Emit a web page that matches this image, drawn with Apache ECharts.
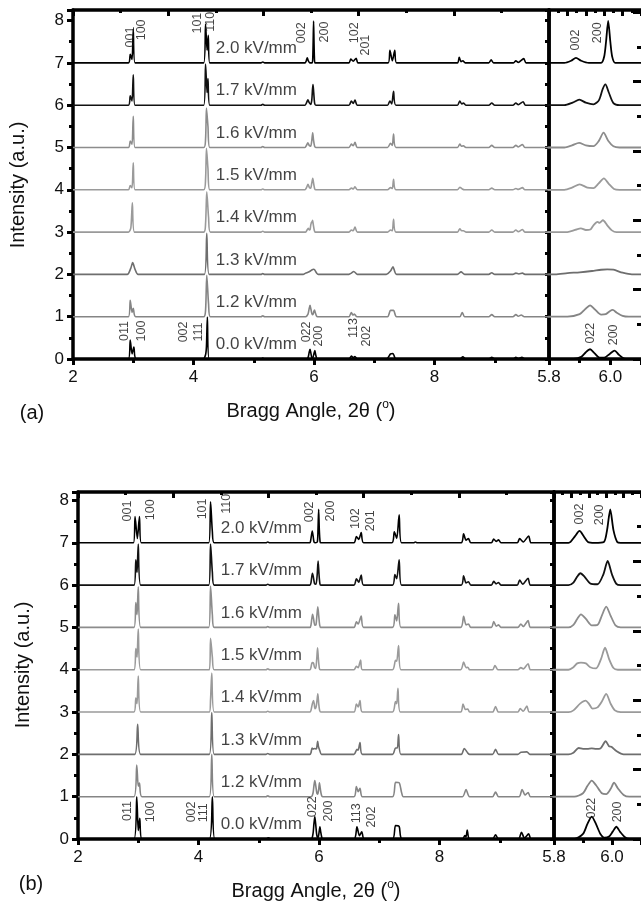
<!DOCTYPE html>
<html><head><meta charset="utf-8">
<script src="https://cdn.jsdelivr.net/npm/echarts@6/dist/echarts.min.js"></script>
<style>html,body{margin:0;padding:0;background:#fff}#c{width:641px;height:908px}</style>
</head><body><div id="c"></div>
<script>
// ---------- data ----------
const fieldLabels = ['0.0 kV/mm','1.2 kV/mm','1.3 kV/mm','1.4 kV/mm','1.5 kV/mm','1.6 kV/mm','1.7 kV/mm','2.0 kV/mm'];
const traceOffsets = [0,1,2,3,4,5,6,7];
const traceColors = ['#000000','#858585','#6e6e6e','#9a9a9a','#9a9a9a','#8c8c8c','#111111','#000000'];
const yTickLabels = [0,1,2,3,4,5,6,7,8];
const xTickLabels = [2,4,6,8];
const insetTickLabels = [5.8,6.0];

// panel (a) traces: [2theta, intensity]
const a00 = [[2,0],[2.92,0],[2.95,0.45],[2.98,0.12],[3.01,0.28],[3.05,0],[4.16,0],[4.2,0.1],[4.215,0.3],[4.23,0.99],[4.26,0],[5.12,0],[5.15,0.02],[5.18,0],[5.88,0],[5.905,0.05],[5.92,0.16],[5.934,0.23],[5.948,0.14],[5.965,0.03],[5.98,0.03],[5.998,0.12],[6.014,0.2],[6.028,0.1],[6.045,0.01],[6.06,0],[6.58,0],[6.62,0.07],[6.65,0.03],[6.68,0.06],[6.72,0],[7.2,0],[7.27,0.12],[7.31,0.13],[7.36,0],[8.42,0],[8.47,0.05],[8.52,0],[8.9,0],[8.95,0.04],[9.0,0],[9.31,0],[9.35,0.04],[9.39,0.01],[9.45,0.04],[9.5,0],[9.95,0]];
const a12 = [[2,0],[2.92,0],[2.95,0.39],[2.98,0.1],[3.0,0.2],[3.04,0],[4.17,0],[4.2,0.15],[4.22,0.98],[4.25,0.3],[4.28,0],[5.12,0],[5.15,0.02],[5.18,0],[5.86,0],[5.9,0.06],[5.918,0.18],[5.934,0.27],[5.95,0.17],[5.97,0.05],[5.985,0.06],[5.998,0.13],[6.008,0.16],[6.02,0.1],[6.04,0.02],[6.06,0],[6.58,0],[6.62,0.1],[6.645,0.04],[6.67,0.06],[6.71,0],[7.22,0],[7.27,0.15],[7.32,0.15],[7.37,0],[8.42,0],[8.46,0.1],[8.5,0],[8.9,0],[8.95,0.05],[9.0,0],[9.3,0],[9.35,0.05],[9.39,0.01],[9.44,0.04],[9.49,0],[9.95,0]];
const a13 = [[2,0],[2.9,0],[2.96,0.15],[2.99,0.28],[3.03,0.12],[3.08,0],[4.18,0],[4.22,0.97],[4.26,0],[5.12,0],[5.15,0.02],[5.18,0],[5.82,0],[5.86,0.03],[5.9,0.05],[5.94,0.08],[5.97,0.11],[5.99,0.12],[6.01,0.11],[6.04,0.04],[6.07,0],[6.58,0],[6.62,0.03],[6.66,0.07],[6.7,0.02],[6.72,0],[7.2,0],[7.27,0.08],[7.31,0.18],[7.37,0],[8.38,0],[8.44,0.06],[8.5,0],[8.9,0],[8.95,0.04],[9.0,0],[9.3,0],[9.35,0.03],[9.4,0.01],[9.46,0.03],[9.5,0],[9.95,0]];
const a14 = [[2,0],[2.92,0],[2.96,0.1],[2.985,0.69],[3.02,0],[4.17,0],[4.2,0.2],[4.22,0.95],[4.25,0.35],[4.28,0],[5.12,0],[5.15,0.02],[5.18,0],[5.86,0],[5.885,0.05],[5.904,0.09],[5.92,0.05],[5.935,0.06],[5.945,0.16],[5.958,0.24],[5.965,0.22],[5.976,0.28],[5.99,0.16],[6.005,0.04],[6.02,0],[6.58,0],[6.62,0.05],[6.65,0.03],[6.68,0.12],[6.72,0],[7.22,0],[7.27,0.05],[7.3,0.03],[7.32,0.3],[7.36,0],[8.38,0],[8.42,0.08],[8.45,0.03],[8.48,0.03],[8.52,0],[8.9,0],[8.95,0.05],[9.0,0],[9.3,0],[9.35,0.05],[9.39,0.01],[9.46,0.06],[9.5,0],[9.95,0]];
const a15 = [[2,0],[2.92,0],[2.95,0.1],[2.98,0.05],[3.0,0.64],[3.03,0],[4.17,0],[4.2,0.25],[4.215,0.98],[4.24,0.5],[4.27,0],[5.12,0],[5.15,0.02],[5.18,0],[5.85,0],[5.875,0.05],[5.9,0.13],[5.925,0.05],[5.945,0.04],[5.962,0.15],[5.979,0.27],[5.995,0.14],[6.012,0.02],[6.03,0],[6.58,0],[6.62,0.04],[6.65,0.02],[6.68,0.07],[6.72,0],[7.22,0],[7.27,0.05],[7.3,0.03],[7.32,0.25],[7.36,0],[8.38,0],[8.42,0.06],[8.46,0.02],[8.5,0],[8.9,0],[8.95,0.04],[9.0,0],[9.3,0],[9.35,0.03],[9.39,0.01],[9.46,0.05],[9.5,0],[9.95,0]];
const a16 = [[2,0],[2.92,0],[2.95,0.15],[2.98,0.08],[3.0,0.74],[3.03,0],[4.17,0],[4.2,0.2],[4.215,0.93],[4.24,0.5],[4.27,0],[5.12,0],[5.15,0.02],[5.18,0],[5.85,0],[5.875,0.05],[5.898,0.11],[5.92,0.05],[5.945,0.03],[5.962,0.15],[5.978,0.35],[5.993,0.16],[6.01,0.03],[6.03,0],[6.58,0],[6.62,0.08],[6.65,0.04],[6.68,0.12],[6.72,0],[7.22,0],[7.27,0.1],[7.3,0.05],[7.32,0.32],[7.36,0],[8.38,0],[8.42,0.08],[8.45,0.03],[8.48,0.04],[8.52,0],[8.9,0],[8.95,0.05],[9.0,0],[9.3,0],[9.35,0.05],[9.39,0.01],[9.46,0.07],[9.5,0],[9.95,0]];
const a17 = [[2,0],[2.92,0],[2.95,0.22],[2.98,0.1],[3.0,0.72],[3.03,0],[4.17,0],[4.2,0.97],[4.225,0.3],[4.24,0.63],[4.27,0],[5.12,0],[5.15,0.02],[5.18,0],[5.85,0],[5.877,0.06],[5.899,0.13],[5.92,0.06],[5.945,0.02],[5.963,0.12],[5.975,0.38],[5.984,0.49],[5.995,0.3],[6.01,0.05],[6.03,0],[6.58,0],[6.62,0.1],[6.65,0.04],[6.68,0.12],[6.72,0],[7.22,0],[7.26,0.1],[7.29,0.03],[7.32,0.33],[7.36,0],[8.38,0],[8.42,0.1],[8.45,0.03],[8.48,0.05],[8.52,0],[8.9,0],[8.95,0.05],[9.0,0],[9.3,0],[9.35,0.05],[9.39,0.01],[9.47,0.08],[9.51,0],[9.95,0]];
const a20 = [[2,0],[2.92,0],[2.95,0.2],[2.98,0.08],[3.0,0.8],[3.03,0],[4.17,0],[4.2,0.92],[4.225,0.3],[4.245,0.65],[4.27,0],[5.12,0],[5.15,0.02],[5.18,0],[5.85,0],[5.872,0.05],[5.888,0.12],[5.905,0.05],[5.93,0],[5.97,0],[5.98,0.15],[5.986,0.5],[5.993,0.99],[6.0,0.5],[6.006,0.15],[6.016,0],[6.58,0],[6.61,0.09],[6.65,0.04],[6.70,0.11],[6.73,0],[7.23,0],[7.26,0.3],[7.3,0.05],[7.34,0.3],[7.37,0],[8.38,0],[8.41,0.13],[8.44,0.03],[8.47,0.05],[8.51,0],[8.9,0],[8.94,0.07],[8.98,0],[9.31,0],[9.35,0.05],[9.39,0.01],[9.48,0.1],[9.52,0],[9.95,0]];

// panel (b) traces
const b00 = [[2,0],[2.93,0],[2.975,1.0],[3.0,0.2],[3.025,0.49],[3.06,0],[4.18,0],[4.23,1.0],[4.27,0],[5.12,0],[5.16,0.03],[5.2,0],[5.87,0],[5.9,0.12],[5.915,0.35],[5.93,0.53],[5.945,0.35],[5.96,0.12],[5.975,0.03],[5.99,0.06],[6.003,0.18],[6.015,0.29],[6.028,0.17],[6.045,0.04],[6.06,0],[6.58,0],[6.63,0.29],[6.67,0.08],[6.71,0.17],[6.75,0],[7.22,0],[7.27,0.32],[7.33,0.3],[7.38,0],[8.38,0],[8.42,0.08],[8.44,0.05],[8.46,0.21],[8.5,0],[8.88,0],[8.93,0.1],[8.98,0],[9.31,0],[9.36,0.16],[9.41,0.02],[9.48,0.12],[9.52,0],[9.95,0]];
const b12 = [[2,0],[2.93,0],[2.975,0.75],[3.0,0.25],[3.02,0.32],[3.06,0],[4.18,0],[4.22,1.0],[4.26,0],[5.12,0],[5.15,0.02],[5.18,0],[5.87,0],[5.9,0.08],[5.915,0.25],[5.93,0.38],[5.945,0.27],[5.965,0.08],[5.98,0.06],[5.995,0.18],[6.007,0.33],[6.02,0.2],[6.04,0.04],[6.06,0],[6.58,0],[6.62,0.24],[6.65,0.12],[6.68,0.2],[6.72,0],[7.22,0],[7.27,0.34],[7.33,0.33],[7.37,0.1],[7.4,0],[8.38,0],[8.44,0.17],[8.5,0],[8.88,0],[8.93,0.11],[8.98,0],[9.32,0],[9.37,0.17],[9.42,0.04],[9.47,0.1],[9.51,0],[9.95,0]];
const b13 = [[2,0],[2.94,0],[2.99,0.71],[3.04,0],[4.18,0],[4.22,0.99],[4.26,0],[5.12,0],[5.15,0.02],[5.18,0],[5.85,0],[5.867,0.04],[5.885,0.15],[5.9,0.13],[5.915,0.13],[5.93,0.14],[5.945,0.13],[5.96,0.14],[5.978,0.31],[5.99,0.19],[5.998,0.18],[6.015,0.08],[6.04,0],[6.58,0],[6.63,0.12],[6.65,0.1],[6.68,0.28],[6.72,0],[7.22,0],[7.27,0.15],[7.3,0.15],[7.32,0.47],[7.36,0],[8.36,0],[8.41,0.14],[8.47,0.03],[8.5,0],[8.88,0],[8.93,0.12],[8.98,0],[9.3,0],[9.35,0.05],[9.45,0.06],[9.5,0],[9.95,0]];
const b14 = [[2,0],[2.93,0],[2.96,0.33],[2.98,0.2],[3.0,0.85],[3.04,0],[4.18,0],[4.2,0.3],[4.22,0.92],[4.26,0],[5.12,0],[5.15,0.02],[5.18,0],[5.85,0],[5.867,0.04],[5.89,0.2],[5.909,0.27],[5.92,0.2],[5.933,0.08],[5.95,0.11],[5.965,0.25],[5.98,0.43],[5.995,0.2],[6.01,0.04],[6.03,0],[6.58,0],[6.62,0.19],[6.65,0.12],[6.68,0.27],[6.72,0],[7.22,0],[7.27,0.25],[7.29,0.2],[7.31,0.56],[7.35,0],[8.35,0],[8.39,0.19],[8.43,0.06],[8.47,0.07],[8.5,0],[8.88,0],[8.93,0.13],[8.98,0],[9.3,0],[9.34,0.08],[9.39,0.02],[9.45,0.14],[9.49,0],[9.95,0]];
const b15 = [[2,0],[2.93,0],[2.96,0.5],[2.98,0.3],[3.0,0.96],[3.04,0],[4.18,0],[4.2,0.74],[4.23,0.3],[4.26,0],[5.12,0],[5.15,0.02],[5.18,0],[5.85,0],[5.867,0.06],[5.88,0.15],[5.893,0.17],[5.91,0.15],[5.925,0.06],[5.945,0.03],[5.962,0.25],[5.976,0.52],[5.99,0.25],[6.005,0.04],[6.02,0],[6.58,0],[6.62,0.08],[6.65,0.05],[6.69,0.23],[6.72,0],[7.22,0],[7.27,0.22],[7.29,0.2],[7.32,0.57],[7.36,0],[8.35,0],[8.4,0.18],[8.44,0.05],[8.47,0.06],[8.5,0],[8.88,0],[8.92,0.1],[8.97,0],[9.3,0],[9.35,0.05],[9.39,0.02],[9.47,0.14],[9.51,0],[9.95,0]];
const b16 = [[2,0],[2.93,0],[2.96,0.59],[2.98,0.3],[3.0,0.96],[3.04,0],[4.17,0],[4.2,0.98],[4.23,0.3],[4.26,0],[5.12,0],[5.15,0.02],[5.18,0],[5.85,0],[5.867,0.06],[5.88,0.2],[5.893,0.31],[5.91,0.2],[5.93,0.05],[5.95,0.06],[5.965,0.28],[5.98,0.49],[5.995,0.28],[6.012,0.05],[6.03,0],[6.58,0],[6.62,0.13],[6.65,0.08],[6.7,0.27],[6.74,0],[7.22,0],[7.26,0.3],[7.29,0.15],[7.32,0.57],[7.36,0],[8.35,0],[8.4,0.26],[8.44,0.06],[8.48,0.08],[8.52,0],[8.86,0],[8.9,0.14],[8.94,0.03],[8.98,0.06],[9.02,0],[9.3,0],[9.35,0.08],[9.39,0.02],[9.47,0.16],[9.51,0],[9.95,0]];
const b17 = [[2,0],[2.93,0],[2.96,0.6],[2.98,0.3],[3.0,0.97],[3.04,0],[4.17,0],[4.2,0.97],[4.23,0.3],[4.26,0],[5.12,0],[5.15,0.02],[5.18,0],[5.85,0],[5.867,0.06],[5.88,0.2],[5.891,0.28],[5.905,0.2],[5.925,0.04],[5.95,0.02],[5.97,0.25],[5.985,0.57],[6.0,0.25],[6.015,0.03],[6.03,0],[6.58,0],[6.62,0.15],[6.66,0.07],[6.7,0.24],[6.74,0],[7.22,0],[7.26,0.25],[7.29,0.15],[7.33,0.6],[7.37,0],[8.36,0],[8.4,0.22],[8.44,0.05],[8.48,0.08],[8.52,0],[8.86,0],[8.9,0.09],[8.94,0.03],[8.98,0.06],[9.02,0],[9.29,0],[9.33,0.12],[9.38,0.02],[9.47,0.16],[9.51,0],[9.95,0]];
const b20 = [[2,0],[2.92,0],[2.947,0.62],[2.985,0.1],[3.02,0.62],[3.05,0],[4.17,0],[4.2,0.97],[4.23,0.26],[4.26,0],[5.12,0],[5.15,0.02],[5.18,0],[5.85,0],[5.857,0.02],[5.872,0.15],[5.888,0.28],[5.903,0.15],[5.917,0.02],[5.94,0],[5.972,0.02],[5.983,0.3],[5.994,0.79],[6.005,0.3],[6.018,0.02],[6.03,0],[6.58,0],[6.62,0.15],[6.66,0.08],[6.7,0.24],[6.74,0],[7.21,0],[7.25,0.26],[7.29,0.1],[7.33,0.66],[7.37,0],[7.57,0],[7.6,0.02],[7.63,0],[8.36,0],[8.4,0.21],[8.44,0.06],[8.48,0.1],[8.52,0],[8.86,0],[8.9,0.09],[8.94,0.03],[8.98,0.07],[9.02,0],[9.29,0],[9.33,0.1],[9.39,0.02],[9.48,0.16],[9.52,0],[9.95,0]];

const tracesA = [a00,a12,a13,a14,a15,a16,a17,a20];
const tracesB = [b00,b12,b13,b14,b15,b16,b17,b20];

// peak index labels [2theta, intensity, text]
const hklAMain = [[2.95,7.61,'001'],[3.145,7.78,'100'],[4.06,7.94,'101'],[4.29,7.97,'110'],[5.80,7.71,'002'],[6.18,7.73,'200'],[6.68,7.71,'102'],[6.85,7.42,'201'],
  [2.86,0.66,'011'],[3.145,0.66,'100'],[3.83,0.64,'002'],[4.09,0.64,'111'],[5.88,0.64,'022'],[6.08,0.54,'200'],[6.65,0.73,'113'],[6.88,0.54,'202']];
const hklAInset = [[5.886,7.54,'002'],[5.957,7.71,'200'],[5.934,0.61,'022'],[6.011,0.57,'200']];
const hklBMain = [[2.83,7.75,'001'],[3.20,7.78,'100'],[4.065,7.80,'101'],[4.47,7.92,'110'],[5.85,7.73,'002'],[6.19,7.75,'200'],[6.60,7.57,'102'],[6.85,7.52,'201'],
  [2.83,0.66,'011'],[3.21,0.64,'100'],[3.88,0.64,'002'],[4.09,0.62,'111'],[5.89,0.76,'022'],[6.15,0.66,'200'],[6.63,0.61,'113'],[6.88,0.52,'202']];
const hklBInset = [[5.889,7.68,'002'],[5.956,7.66,'200'],[5.930,0.73,'022'],[6.019,0.64,'200']];
const fieldLabelX = 4.36;
const fieldLabelDy = 0.34;

// ---------- chart ----------
const FONT = 'Liberation Sans, Arial, Helvetica, sans-serif';
const chart = echarts.init(document.getElementById('c'), null, {renderer:'canvas'});
const LW = 3.5;
const panels = [
  {main:{left:73, top:10, width:476, height:349}, inset:{left:549, top:10, width:94, height:349}, ymax:8.25, traces:tracesA, hklMain:hklAMain, hklInset:hklAInset},
  {main:{left:78, top:492, width:476, height:347}, inset:{left:554, top:492, width:95, height:347}, ymax:8.2, traces:tracesB, hklMain:hklBMain, hklInset:hklBInset}
];
const grid=[], xAxis=[], yAxis=[], series=[];
const lineBlack = {color:'#000', width:LW};
panels.forEach((p, k) => {
  const gm = grid.length; grid.push(Object.assign({containLabel:false}, p.main));
  const gi = grid.length; grid.push(Object.assign({containLabel:false}, p.inset));
  const xm = xAxis.length;
  xAxis.push({type:'value', gridIndex:gm, position:'bottom', min:2, max:9.9, interval:2,
    axisLine:{show:true, onZero:false, lineStyle:lineBlack},
    axisTick:{show:true, inside:false, length:6, lineStyle:{width:3, color:'#000'}},
    minorTick:{show:true, splitNumber:2, length:4, lineStyle:{width:3, color:'#000'}},
    splitLine:{show:false},
    axisLabel:{show:true, margin:10, fontSize:17, color:'#111', fontFamily:FONT, showMaxLabel:false,
      formatter:v => xTickLabels.indexOf(v) >= 0 ? String(v) : ''}});
  xAxis.push({type:'value', gridIndex:gm, position:'top', min:2, max:9.9, interval:1.58,
    axisLine:{show:true, onZero:false, lineStyle:lineBlack},
    axisTick:{show:true, inside:true, length:6, lineStyle:{width:3, color:'#000'}},
    minorTick:{show:true, splitNumber:2, length:3, lineStyle:{width:3, color:'#000'}},
    splitLine:{show:false}, axisLabel:{show:false}});
  const xi = xAxis.length;
  xAxis.push({type:'value', gridIndex:gi, position:'bottom', min:5.8, max:6.1, interval:0.2,
    axisLine:{show:true, onZero:false, lineStyle:lineBlack},
    axisTick:{show:true, inside:false, length:6, lineStyle:{width:3, color:'#000'}},
    minorTick:{show:true, splitNumber:2, length:4, lineStyle:{width:3, color:'#000'}},
    splitLine:{show:false},
    axisLabel:{show:true, margin:10, fontSize:17, color:'#111', fontFamily:FONT, showMaxLabel:false, showMinLabel:true,
      formatter:v => insetTickLabels.some(t => Math.abs(t - v) < 1e-6) ? v.toFixed(1) : ''}});
  xAxis.push({type:'value', gridIndex:gi, position:'top', min:5.8, max:6.1, interval:0.06,
    axisLine:{show:true, onZero:false, lineStyle:lineBlack},
    axisTick:{show:true, inside:true, length:6, lineStyle:{width:3, color:'#000'}},
    minorTick:{show:true, splitNumber:2, length:3, lineStyle:{width:3, color:'#000'}},
    splitLine:{show:false}, axisLabel:{show:false}});
  const ym = yAxis.length;
  yAxis.push({type:'value', gridIndex:gm, position:'left', min:0, max:p.ymax, interval:1,
    axisLine:{show:true, onZero:false, lineStyle:lineBlack},
    axisTick:{show:true, inside:false, length:6, lineStyle:{width:3, color:'#000'}},
    minorTick:{show:true, splitNumber:2, length:4, lineStyle:{width:3, color:'#000'}},
    splitLine:{show:false},
    axisLabel:{show:true, margin:9, fontSize:17, color:'#111', fontFamily:FONT, showMaxLabel:false,
      formatter:v => yTickLabels.indexOf(v) >= 0 ? String(v) : ''}});
  yAxis.push({type:'value', gridIndex:gm, position:'right', min:0, max:p.ymax, interval:0.5,
    axisLine:{show:true, onZero:false, lineStyle:lineBlack},
    axisTick:{show:true, inside:true, length:4, lineStyle:{width:3, color:'#000'}},
    splitLine:{show:false}, axisLabel:{show:false}});
  const yi = yAxis.length;
  yAxis.push({type:'value', gridIndex:gi, position:'left', min:0, max:p.ymax,
    axisLine:{show:true, onZero:false, lineStyle:lineBlack},
    axisTick:{show:false}, splitLine:{show:false}, axisLabel:{show:false}});
  yAxis.push({type:'value', gridIndex:gi, position:'right', min:0, max:p.ymax, interval:1.64,
    axisLine:{show:false},
    axisTick:{show:true, inside:true, length:8, lineStyle:{width:3, color:'#000'}},
    minorTick:{show:true, splitNumber:2, length:4, lineStyle:{width:3, color:'#000'}},
    splitLine:{show:false}, axisLabel:{show:false}});

  p.traces.forEach((tr, i) => {
    const d = tr.map(pt => [pt[0], pt[1] + traceOffsets[i]]);
    const common = {type:'line', data:d, showSymbol:false, symbol:'none', smooth:0.25, clip:true, silent:true,
      lineStyle:{color:traceColors[i], width:1.6}, z:2};
    series.push(Object.assign({xAxisIndex:xm, yAxisIndex:ym}, common));
    series.push(Object.assign({xAxisIndex:xi, yAxisIndex:yi}, common, {lineStyle:{color:traceColors[i], width:1.8}}));
  });
  // field labels
  series.push({type:'scatter', xAxisIndex:xm, yAxisIndex:ym, symbolSize:1, itemStyle:{color:'rgba(0,0,0,0)'}, silent:true, z:5,
    data: fieldLabels.map((t, i) => ({value:[fieldLabelX, traceOffsets[i] + fieldLabelDy], name:t})),
    label:{show:true, position:'right', distance:0, formatter:q => q.name, fontSize:17, color:'#111', fontFamily:FONT}});
  // hkl labels
  const hklSeries = (arr, xa, ya) => ({type:'scatter', xAxisIndex:xa, yAxisIndex:ya, symbolSize:1, itemStyle:{color:'rgba(0,0,0,0)'}, silent:true, z:5,
    data: arr.map(h => ({value:[h[0], h[1]], name:h[2]})),
    label:{show:true, position:'inside', rotate:90, formatter:q => q.name, fontSize:12.5, color:'#111', fontFamily:FONT}});
  series.push(hklSeries(p.hklMain, xm, ym));
  series.push(hklSeries(p.hklInset, xi, yi));
});

const titleY = (x, y) => ({type:'text', x:x, y:y, rotation:Math.PI/2,
  style:{text:'Intensity (a.u.)', font:'20px ' + FONT, fill:'#111', textAlign:'center', textVerticalAlign:'middle'}});
const titleX = (x, y) => ({type:'text', x:x, y:y,
  style:{text:'{n|Bragg Angle, 2θ (}{s|o}{n|)}', fill:'#111', textAlign:'center', textVerticalAlign:'middle',
    rich:{n:{fontSize:20, fontFamily:FONT, lineHeight:24}, s:{fontSize:12, fontFamily:FONT, verticalAlign:'top', lineHeight:14}}}});
const tag = (t, x, y) => ({type:'text', x:x, y:y, style:{text:t, font:'20px ' + FONT, fill:'#111', textAlign:'center', textVerticalAlign:'middle'}});

chart.setOption({
  animation:false,
  backgroundColor:'#fff',
  grid, xAxis, yAxis, series,
  graphic:[titleY(18,185), titleY(23,665), titleX(311,411), titleX(316,891), tag('(a)',32,413), tag('(b)',31,884)]
});
</script>
</body></html>
